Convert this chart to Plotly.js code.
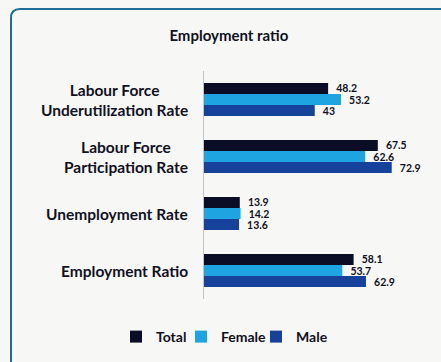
<!DOCTYPE html>
<html>
<head>
<meta charset="utf-8">
<script src="https://cdn.plot.ly/plotly-3.0.1.min.js"></script>
<style>
  html, body { margin: 0; padding: 0; background: #f7f7f5; }
  #chart { width: 441px; height: 362px; }
</style>
</head>
<body>
<div id="chart"></div>
<script>
const categories = ['Labour Force<br>Underutilization Rate', 'Labour Force<br>Participation Rate', 'Unemployment Rate', 'Employment Ratio'];
const seriesNames = ['Total', 'Female', 'Male'];
const totalValues = [48.2, 67.5, 13.9, 58.1];
const femaleValues = [53.2, 62.6, 14.2, 53.7];
const maleValues = [43, 72.9, 13.6, 62.9];
const seriesColors = ['#0b0d26', '#1ea5e1', '#17429c'];
const chartTitle = 'Employment ratio';

const W = 441, H = 362;
const M = { l: 204, r: 31, t: 71, b: 63 };
const plotW = W - M.l - M.r, plotH = H - M.t - M.b;
const px = x => (x - M.l) / plotW;
const py = y => (H - M.b - y) / plotH;

const font = 'Lato, "Open Sans", sans-serif';
const textColor = '#111122';

const legendIds = ['legend', 'legend2', 'legend3'];
const legendLeft = [116, 181, 256];

const values = [totalValues, femaleValues, maleValues];
const traces = values.map((vals, i) => ({
  type: 'bar',
  orientation: 'h',
  name: seriesNames[i],
  legend: legendIds[i],
  y: categories,
  x: vals,
  marker: { color: seriesColors[i] },
  text: vals.map(v => '\u00a0\u00a0' + v),
  textposition: 'outside',
  constraintext: 'none',
  cliponaxis: false,
  textfont: { family: font, size: 10.5, color: textColor, weight: 'bold' },
  hoverinfo: 'x+name'
}));

// rounded border in paper coordinates
const bx0 = 11, by0 = 9, bx1 = 446, by1 = 368, rad = 9;
const rx = rad / plotW, ry = rad / plotH;
const borderPath =
  'M ' + px(bx0) + ',' + (py(by1)) +
  ' L ' + px(bx0) + ',' + (py(by0) - ry) +
  ' Q ' + px(bx0) + ',' + py(by0) + ' ' + (px(bx0) + rx) + ',' + py(by0) +
  ' L ' + px(bx1) + ',' + py(by0);

const annotations = categories.map(c => ({
  xref: 'paper', yref: 'y', x: 0, y: c,
  xanchor: 'right', yanchor: 'middle', xshift: -14,
  align: 'center', showarrow: false,
  text: c,
  font: { family: font, size: 15.5, color: textColor, weight: 'bold' }
}));

const layout = {
  width: W, height: H,
  margin: M,
  paper_bgcolor: '#f7f7f5',
  plot_bgcolor: '#f7f7f5',
  title: {
    text: chartTitle,
    x: 0.519, xanchor: 'center',
    y: 1 - 36 / H, yanchor: 'middle',
    font: { family: font, size: 15, color: textColor, weight: 'bold' }
  },
  barmode: 'group',
  bargap: 0.42,
  bargroupgap: 0,
  xaxis: {
    range: [0, 80],
    showgrid: false, zeroline: false, showline: false,
    showticklabels: false, ticks: ''
  },
  yaxis: {
    autorange: 'reversed',
    showgrid: false, zeroline: false,
    showline: true, linecolor: '#c4c4c4', linewidth: 1,
    showticklabels: false, ticks: ''
  },
  showlegend: true,
  annotations: annotations,
  shapes: [{
    type: 'path', xref: 'paper', yref: 'paper',
    path: borderPath,
    line: { color: '#1b6e98', width: 2 }
  }]
};

legendIds.forEach((id, i) => {
  layout[id] = {
    orientation: 'h',
    x: legendLeft[i] / W, xref: 'container', xanchor: 'left',
    y: 1 - 337 / H, yref: 'container', yanchor: 'middle',
    itemwidth: 30,
    font: { family: font, size: 14, color: textColor, weight: 'bold' },
    bgcolor: 'rgba(0,0,0,0)'
  };
});

Plotly.newPlot('chart', traces, layout, { displayModeBar: false, staticPlot: true });
</script>
</body>
</html>
